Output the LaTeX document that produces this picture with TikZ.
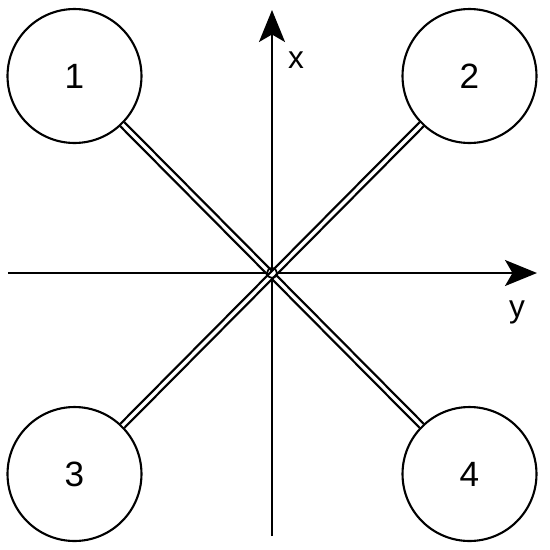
\documentclass[tikz,border=0pt]{standalone}
\usepackage{fontspec}
\setmainfont{Liberation Sans}
\usetikzlibrary{arrows.meta}

\tikzset{
  ball/.style={draw,circle,line width=1.2pt,minimum size=2.68cm,inner sep=0pt,font=\fontsize{20}{22}\selectfont},
  hub/.style={draw,circle,line width=1pt,minimum size=0.2cm,inner sep=0pt},
  arm/.style={draw,line width=1.3pt,double,double distance=1.9pt},
  axis/.style={line width=1.2pt,-{Stealth[length=0.64cm,width=0.52cm,inset=0.15cm]}},
  axislabel/.style={font=\fontsize{18}{20}\selectfont}
}

\begin{document}
\begin{tikzpicture}[x=0.02cm,y=0.02cm]
  \useasboundingbox (-272,-276) rectangle (278,273);
  % pixel grid of the reference, origin where the axes cross
  \coordinate (xbot) at (0,-263);
  \coordinate (xtop) at (0,263);
  \coordinate (yleft) at (-264,0);
  \coordinate (yright) at (265,0);

  \draw[axis] (xbot) -- (xtop);
  \draw[axis] (yleft) -- (yright);
  \node[axislabel] (xlab) at (24,213) {x};
  \node[axislabel] (ylab) at (245,-39) {y};

  \foreach \name/\lab/\px/\py in {b1/1/-197.5/197,b2/2/197.5/197,b3/3/-197.5/-201,b4/4/197.5/-201} {
    \node[ball] (\name) at (\px,\py) {\lab};
  }
  \node[hub] (hub) at (0,0) {};

  \draw[arm] (b1) -- (b4);
  \draw[arm] (b2) -- (b3);
  \node[hub] at (hub) {};
\end{tikzpicture}
\end{document}
